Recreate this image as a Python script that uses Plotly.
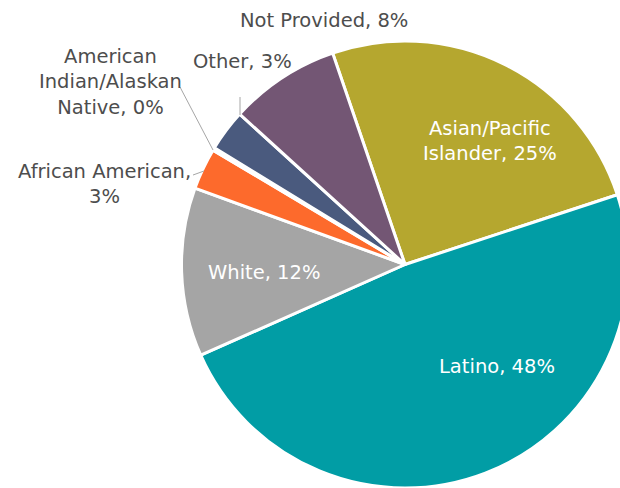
import plotly.graph_objects as go

# Data
categories = ["Asian/Pacific Islander", "Latino", "White", "African American",
              "American Indian/Alaskan Native", "Other", "Not Provided"]
values = [25.2, 48.4, 12.2, 3.0, 0.2, 3.0, 8.0]
colors = ["#B5A72F", "#019DA5", "#A5A5A5", "#FD6A2C", "#9C9C9C", "#4A5A7E", "#735674"]

# Label texts (line breaks as in the reference)
label_lines = [
    "Asian/Pacific<br>Islander, {p}%",
    "Latino, {p}%",
    "White, {p}%",
    "African American,<br>{p}%",
    "American<br>Indian/Alaskan<br>Native, {p}%",
    "Other, {p}%",
    "Not Provided, {p}%",
]
label_pos = [(490, 141), (497, 366), (264, 272), (104, 184), (110, 82), (242, 62), (324, 20)]
label_inside = [True, True, True, False, False, False, False]

W, H = 632, 488   # slightly wider than the window so the pie is clipped at the right edge
CX, CY, R = 405, 265, 224

def px(x):
    return x / W

def py(y):
    return 1 - y / H

total = sum(values)
fig = go.Figure(go.Pie(
    labels=categories,
    values=values,
    sort=False,
    direction="clockwise",
    rotation=-18.9,
    marker=dict(colors=colors, line=dict(color="white", width=3)),
    textinfo="none",
    hoverinfo="label+percent",
    domain=dict(x=[(CX - R) / W, (CX + R) / W],
                y=[max(0, (H - CY - R) / H), min(1, (H - CY + R) / H)]),
))

annotations = []
for cat, v, tmpl, (x, y), inside in zip(categories, values, label_lines, label_pos, label_inside):
    p = round(v / total * 100)
    annotations.append(dict(
        x=px(x), y=py(y), xref="paper", yref="paper",
        text=tmpl.format(p=p), showarrow=False,
        xanchor="center", yanchor="middle", align="center",
        font=dict(family="DejaVu Sans, sans-serif", size=19.5,
                  color="white" if inside else "#4D4D4D"),
    ))

# leader lines
leaders = [((240, 97), (240, 115)), ((180, 87), (213, 150)), ((193, 175), (204, 171))]
shapes = []
for (x0, y0), (x1, y1) in leaders:
    shapes.append(dict(type="line", xref="paper", yref="paper",
                       x0=px(x0), y0=py(y0), x1=px(x1), y1=py(y1),
                       line=dict(color="#A6A6A6", width=1)))

fig.update_layout(
    width=W, height=H,
    margin=dict(l=0, r=0, t=0, b=0),
    paper_bgcolor="white",
    showlegend=False,
    annotations=annotations,
    shapes=shapes,
)

fig.write_html("out.html", config={"displayModeBar": False},
               post_script="document.body.style.margin='0';document.body.style.overflow='hidden';")
